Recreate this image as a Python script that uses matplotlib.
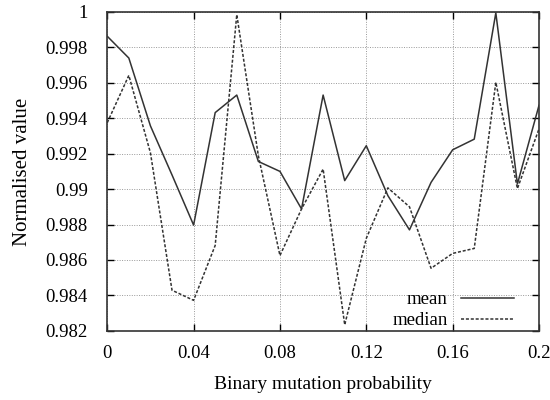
import matplotlib.pyplot as plt
import numpy as np

# --- data ---
prob = [0.00, 0.01, 0.02, 0.03, 0.04, 0.05, 0.06, 0.07, 0.08, 0.09, 0.10,
        0.11, 0.12, 0.13, 0.14, 0.15, 0.16, 0.17, 0.18, 0.19, 0.20]
mean_vals = [0.99863, 0.99740, 0.99357, 0.99080, 0.98797, 0.99432, 0.99531,
             0.99156, 0.99100, 0.98888, 0.99531, 0.99048, 0.99245, 0.98963,
             0.98770, 0.99038, 0.99222, 0.99282, 0.99995, 0.99029, 0.99473]
median_vals = [0.99375, 0.99642, 0.99205, 0.98429, 0.98372, 0.98682, 0.99985,
               0.99188, 0.98625, 0.98888, 0.99113, 0.98234, 0.98722, 0.99007,
               0.98900, 0.98553, 0.98637, 0.98665, 0.99603, 0.99003, 0.99340]

x_ticks = [0, 0.04, 0.08, 0.12, 0.16, 0.2]
x_labels = ['0', '0.04', '0.08', '0.12', '0.16', '0.2']
y_ticks = [0.982, 0.984, 0.986, 0.988, 0.99, 0.992, 0.994, 0.996, 0.998, 1.0]
y_labels = ['0.982', '0.984', '0.986', '0.988', '0.99', '0.992', '0.994',
            '0.996', '0.998', '1']

plt.rcParams['font.family'] = ['Liberation Serif', 'DejaVu Serif']

fig = plt.figure(figsize=(5.5, 4), dpi=100)
ax = fig.add_axes([0.195, 0.173, 0.785, 0.797])

ax.plot(prob, mean_vals, color='#333333', linewidth=1.1, label='mean')
ax.plot(prob, median_vals, color='#333333', linewidth=1.1,
        linestyle=(0, (2.0, 1.2)), label='median')

ax.set_xlim(0, 0.2)
ax.set_ylim(0.982, 1.0)
ax.set_xticks(x_ticks)
ax.set_xticklabels(x_labels)
ax.set_yticks(y_ticks)
ax.set_yticklabels(y_labels)
ax.tick_params(direction='in', top=True, right=True, labelsize=13.5,
               length=5, width=1)
ax.tick_params(axis='y', pad=14)
ax.tick_params(axis='x', pad=10)
ax.grid(True, linestyle=(0, (1, 1.5)), color='#999999', linewidth=0.7)
for s in ax.spines.values():
    s.set_linewidth(1.2)
    s.set_color('#333333')

ax.set_xlabel('Binary mutation probability', fontsize=14, labelpad=10)
ax.set_ylabel('Normalised value', fontsize=15, labelpad=10)

leg = ax.legend(loc='lower right', bbox_to_anchor=(0.967, -0.03),
                frameon=False, markerfirst=False,
                fontsize=13.5, handlelength=2.8, handletextpad=0.7,
                labelspacing=0.2, borderaxespad=0.2)

fig.savefig('out.png', dpi=100)
